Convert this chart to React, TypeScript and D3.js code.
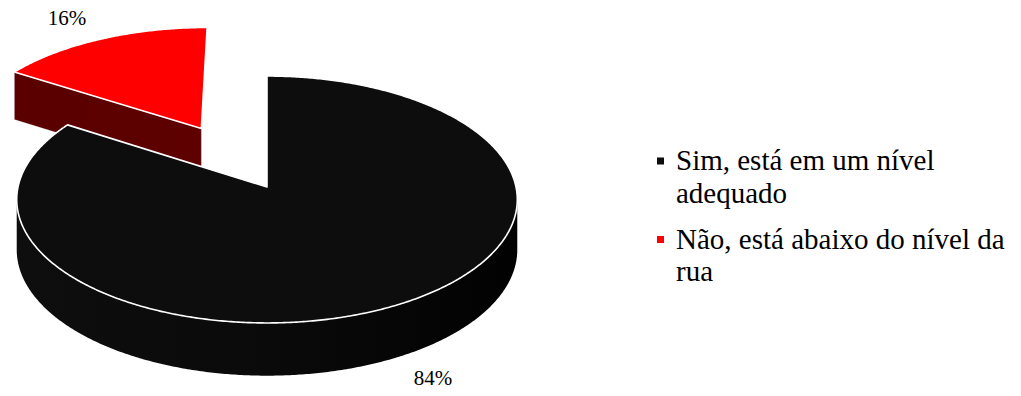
import React from 'react';
import * as d3 from 'd3';

// ---- data ----
const categories: string[] = ["Sim, está em um nível adequado", "Não, está abaixo do nível da rua"];
const values: number[] = [84, 16];
const percentLabels: string[] = ["84%", "16%"];
const topColors: string[] = ["#0d0d0d", "#fe0000"];
const sideColors: string[][] = [["#0e0e0e", "#0a0a0a", "#020202"], ["#5a0000", "#600000", "#680000"]];
const explodeAmount: number[] = [0, 0.575];

// ---- layout ----
const W = 1021, H = 396;
const CX = 267, CY = 187;     // projected pie centre
const A = 249, B = 122.2;      // horizontal / vertical radii
const K = 0.1011;              // perspective strength
const T = 50;                  // thickness
const FONT = '"Liberation Serif"';

function proj(u: number, v: number, z: number): [number, number] {
  const w = 1 - K * v;
  return [CX + (A * u) / w, CY + (B * v) / w + (z * T) / Math.sqrt(w)];
}

function wrap(text: string, font: string, maxW: number): string[] {
  const c = document.createElement('canvas').getContext('2d');
  if (!c) return [text];
  c.font = font;
  const words = text.split(' ');
  const lines: string[] = [];
  let cur = '';
  for (const w of words) {
    const t = cur ? cur + ' ' + w : w;
    if (c.measureText(t).width > maxW && cur) { lines.push(cur); cur = w; } else cur = t;
  }
  if (cur) lines.push(cur);
  return lines;
}

export default function App() {
  const pie = d3.pie<number>().sort(null).startAngle(0).endAngle(2 * Math.PI);
  const arcs = pie(values);
  const visL = Math.acos(-K), visR = 2 * Math.PI - Math.acos(-K);
  const step = Math.PI / 360;

  const slices = arcs.map((a, i) => {
    const mid = (a.startAngle + a.endAngle) / 2;
    const e = explodeAmount[i];
    const ox = e * Math.sin(mid), oy = -e * Math.cos(mid);
    const rim = (ang: number, z: number) => proj(ox + Math.sin(ang), oy - Math.cos(ang), z);
    const apex = (z: number) => proj(ox, oy, z);
    const angles = (s: number, en: number) => {
      const out: number[] = [];
      const n = Math.max(2, Math.ceil((en - s) / step));
      for (let j = 0; j <= n; j++) out.push(s + ((en - s) * j) / n);
      return out;
    };
    const tp = d3.path();
    const a0 = apex(0);
    tp.moveTo(a0[0], a0[1]);
    angles(a.startAngle, a.endAngle).forEach(g => { const p = rim(g, 0); tp.lineTo(p[0], p[1]); });
    tp.closePath();
    const sides: string[] = [];
    const s0 = Math.max(a.startAngle, visL), s1 = Math.min(a.endAngle, visR);
    if (s1 > s0) {
      const sp = d3.path();
      const ang = angles(s0, s1);
      ang.forEach((g, j) => { const p = rim(g, 0); j ? sp.lineTo(p[0], p[1]) : sp.moveTo(p[0], p[1]); });
      ang.slice().reverse().forEach(g => { const p = rim(g, 1); sp.lineTo(p[0], p[1]); });
      sp.closePath();
      sides.push(sp.toString());
    }
    const radial: string[] = [];
    [[a.startAngle, -1], [a.endAngle, 1]].forEach(([g, sgn]) => {
      const nAng = g + sgn * Math.PI / 2;
      const nv = -Math.cos(nAng);
      if (nv > 0.05) {
        const rp = d3.path();
        const p1 = apex(0), p2 = rim(g, 0), p3 = rim(g, 1), p4 = apex(1);
        rp.moveTo(p1[0], p1[1]); rp.lineTo(p2[0], p2[1]); rp.lineTo(p3[0], p3[1]); rp.lineTo(p4[0], p4[1]); rp.closePath();
        radial.push(rp.toString());
      }
    });
    const dx = Math.sin(mid), dy = -Math.cos(mid);
    const front = dy > 0;
    const rp = rim(mid, front ? 1 : 0);
    const len = Math.hypot(dx * A, dy * B);
    const ux = (dx * A) / len, uy = (dy * B) / len;
    const lx = rp[0] + ux * 46, ly = rp[1] + uy * 31;
    return { i, top: tp.toString(), sides, radial, lx, ly, depth: oy };
  });

  const order = slices.slice().sort((p, q) => p.depth - q.depth);

  const legendFont = `29px ${FONT}`;
  const legendX = 657, textX = 676, lineH = 32.5, entryGap = 13.5;
  let by = 170;
  const legend = categories.map((c, i) => {
    const lines = wrap(c, legendFont, 340);
    const item = { lines, y: by, i };
    by += lines.length * lineH + entryGap;
    return item;
  });

  const txtStyle = { fontFamily: FONT };

  return (
    <svg width={W} height={H} style={{ position: 'absolute', left: 0, top: 0, background: '#fff' }}>
      <defs>
        {sideColors.map((cs, i) => (
          <linearGradient key={i} id={`side${i}`} gradientUnits="userSpaceOnUse" x1={CX - A} x2={CX + A} y1={0} y2={0}>
            {cs.map((c, j) => <stop key={j} offset={j / (cs.length - 1)} stopColor={c} />)}
          </linearGradient>
        ))}
      </defs>
      {order.map(s => (
        <g key={s.i}>
          {s.sides.map((d, j) => <path key={'s' + j} d={d} fill={`url(#side${s.i})`} />)}
          {s.radial.map((d, j) => <path key={'r' + j} d={d} fill={`url(#side${s.i})`} stroke="#f0f0f0" strokeWidth={0.6} strokeOpacity={0.5} />)}
          <path d={s.top} fill={topColors[s.i]} stroke="#ffffff" strokeWidth={1.6} strokeLinejoin="round" />
        </g>
      ))}
      {slices.map(s => (
        <text key={'l' + s.i} x={s.lx} y={s.ly + 7} textAnchor="middle" style={txtStyle} fontSize={21} fill="#000">
          {percentLabels[s.i]}
        </text>
      ))}
      {legend.map(it => (
        <g key={'lg' + it.i}>
          <rect x={legendX} y={it.y - 12.5} width={7} height={7} fill={topColors[it.i]} />
          {it.lines.map((ln, j) => (
            <text key={j} x={textX} y={it.y + j * lineH} style={txtStyle} fontSize={29} fill="#000">{ln}</text>
          ))}
        </g>
      ))}
    </svg>
  );
}
